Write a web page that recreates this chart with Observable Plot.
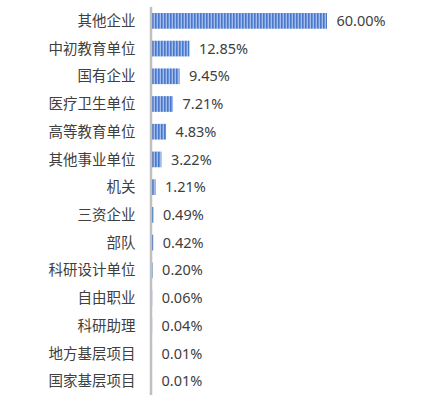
<!DOCTYPE html>
<html>
<head>
<meta charset="utf-8">
<script src="https://cdn.jsdelivr.net/npm/d3@7"></script>
<script src="https://cdn.jsdelivr.net/npm/@observablehq/plot@0.6"></script>
<style>
  html, body { margin: 0; padding: 0; background: #fff; }
</style>
</head>
<body>
<div id="chart"></div>
<script>
const categories = ["其他企业", "中初教育单位", "国有企业", "医疗卫生单位", "高等教育单位", "其他事业单位", "机关", "三资企业", "部队", "科研设计单位", "自由职业", "科研助理", "地方基层项目", "国家基层项目"];
const values = [60.00, 12.85, 9.45, 7.21, 4.83, 3.22, 1.21, 0.49, 0.42, 0.20, 0.06, 0.04, 0.01, 0.01];

const data = categories.map((c, i) => ({category: c, value: values[i]}));

const chart = Plot.plot({
  width: 424,
  height: 403,
  marginLeft: 152,
  marginRight: 97,
  marginTop: 7,
  marginBottom: 8,
  style: {fontFamily: "'Noto Sans', 'Noto Sans CJK SC', sans-serif", color: "#404040", background: "#fff"},
  x: {domain: [0, 60], axis: null},
  y: {domain: categories, padding: 0, round: false, label: null},
  marks: [
    Plot.barX(data, {y: "category", x: "value", fill: "url(#stripes)", insetTop: 6, insetBottom: 6}),
    Plot.text(data, {y: "category", x: "value", text: d => d.value.toFixed(2) + "%", textAnchor: "start", dx: 9, fontSize: 14.5, fill: "#404040"}),
    Plot.ruleX([0], {stroke: "#bfbfbf", strokeWidth: 2.5, dx: -1.5}),
    Plot.axisY({tickSize: 0, tickPadding: 17, fontSize: 14.5, label: null, fontFamily: "'Noto Sans CJK SC', sans-serif"})
  ]
});

const ns = "http://www.w3.org/2000/svg";
const defs = document.createElementNS(ns, "defs");
defs.innerHTML = `
  <pattern id="stripes" patternUnits="userSpaceOnUse" width="3" height="10" x="152">
    <rect x="0" y="0" width="3" height="10" fill="#4a78cb"/>
    <rect x="1" y="0" width="1" height="10" fill="#6a92da"/>
    <rect x="2" y="0" width="1" height="10" fill="#a3bcea"/>
  </pattern>`;
chart.insertBefore(defs, chart.firstChild);
document.getElementById("chart").appendChild(chart);
</script>
</body>
</html>
